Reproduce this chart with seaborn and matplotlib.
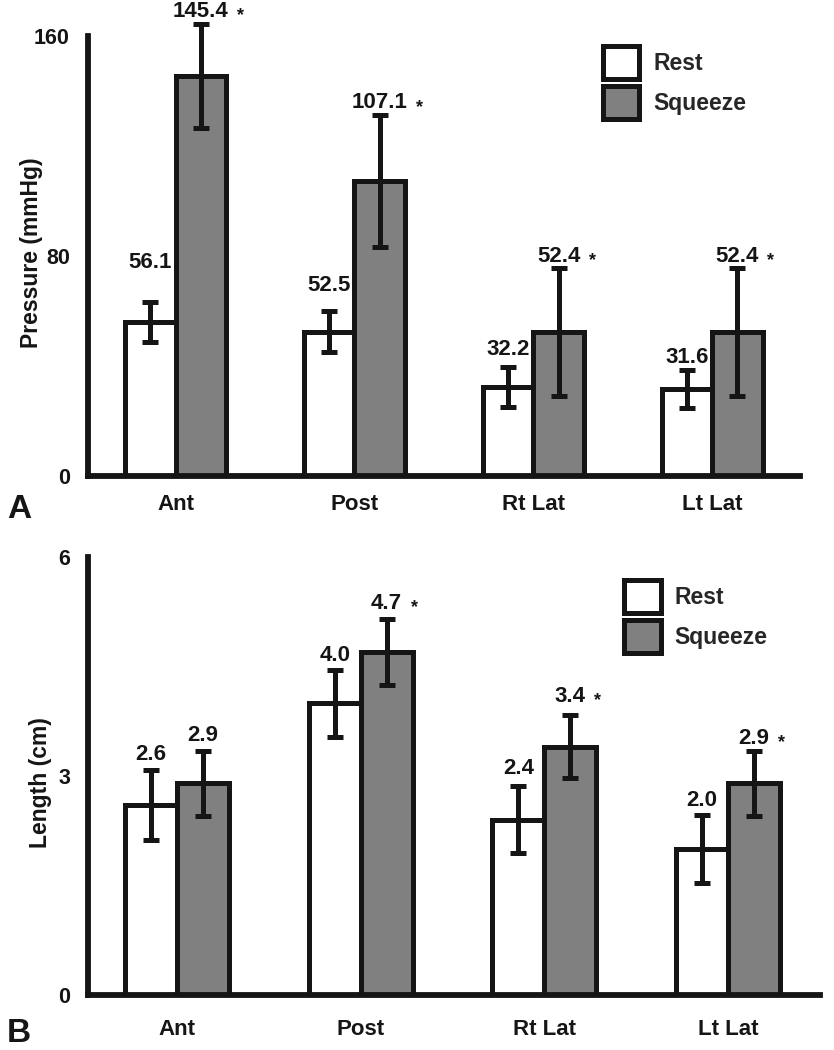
import numpy as np
import pandas as pd
import matplotlib
matplotlib.use("Agg")
import matplotlib.pyplot as plt
from matplotlib.patches import Patch
import seaborn as sns

sites = ["Ant", "Post", "Rt Lat", "Lt Lat"]
conditions = ["Rest", "Squeeze"]

# panel A - pressure (mmHg)
pressure_rest = [56.1, 52.5, 32.2, 31.6]
pressure_squeeze = [145.4, 107.1, 52.4, 52.4]
pressure_rest_err = [7.3, 7.5, 7.3, 7.0]
pressure_squeeze_err = [19.0, 24.0, 23.3, 23.3]
pressure_rest_star = [False, False, False, False]
pressure_squeeze_star = [True, True, True, True]

# panel B - length (cm)
length_rest = [2.6, 4.0, 2.4, 2.0]
length_squeeze = [2.9, 4.7, 3.4, 2.9]
length_rest_err = [0.48, 0.46, 0.46, 0.47]
length_squeeze_err = [0.45, 0.45, 0.43, 0.45]
length_rest_star = [False, False, False, False]
length_squeeze_star = [False, True, True, True]

# gap (pt) between error bar top and value label
gap_a_rest = [28, 18, 13, 9]
gap_a_squeeze = [9, 9, 8, 8]
gap_b_rest = [11, 10, 13, 10]
gap_b_squeeze = [11, 11, 14, 9]

sns.set_theme(style="white")
plt.rcParams["font.family"] = ["Liberation Sans", "DejaVu Sans"]
plt.rcParams["font.weight"] = "bold"

INK = "#151515"
GREY = "#808080"
LW = 3.6

fig = plt.figure(figsize=(8.34, 10.5), dpi=100)
ax_a = fig.add_axes([0.1055, 0.5467, 0.8535, 0.419])
ax_b = fig.add_axes([0.1055, 0.0524, 0.8775, 0.417])


def panel(ax, rest, squeeze, rest_err, squeeze_err, rest_star, squeeze_star,
          gaps_rest, gaps_squeeze, ymax, yticks, ylabel, xlim, xpad, label_xy, leg_xy):
    df = pd.DataFrame({
        "site": sites * 2,
        "condition": ["Rest"] * 4 + ["Squeeze"] * 4,
        "value": list(rest) + list(squeeze),
    })
    sns.barplot(data=df, x="site", y="value", hue="condition", order=sites,
                hue_order=conditions, palette={"Rest": "white", "Squeeze": GREY},
                edgecolor=INK, linewidth=LW, width=0.565, errorbar=None,
                saturation=1, legend=False, ax=ax)

    all_err = [rest_err, squeeze_err]
    all_star = [rest_star, squeeze_star]
    all_gap = [gaps_rest, gaps_squeeze]
    bar_conts = list(ax.containers)
    for k, cont in enumerate(bar_conts):
        xs = [b.get_x() + b.get_width() / 2 for b in cont]
        hs = [b.get_height() for b in cont]
        eb = ax.errorbar(xs, hs, yerr=all_err[k], fmt="none", ecolor=INK,
                         elinewidth=3.6, capsize=5.5, capthick=3.6, zorder=5)
        for art in list(eb.lines[1]) + list(eb.lines[2]):
            art.set_clip_on(False)
        for x, h, e, s, g in zip(xs, hs, all_err[k], all_star[k], all_gap[k]):
            lab = f"{h:.1f}"
            t = ax.annotate(lab, xy=(x, h + e), xytext=(0, g),
                            textcoords="offset points", ha="center", va="center",
                            fontsize=16, fontweight="bold", color=INK,
                            annotation_clip=False)
            if s:
                ax.annotate("*", xy=(1, 0.5), xycoords=t, xytext=(6, -3),
                            textcoords="offset points", ha="left", va="center",
                            fontsize=13, fontweight="bold", color=INK)

    ax.set_xlim(*xlim)
    ax.set_ylim(0, ymax)
    ax.set_yticks(yticks)
    ax.set_yticklabels([str(v) for v in yticks])
    ax.set_xlabel("")
    ax.set_ylabel(ylabel, fontsize=16.5, fontweight="bold", color=INK)
    ax.yaxis.set_label_coords(*label_xy)
    sns.despine(ax=ax)
    for side in ["left", "bottom"]:
        ax.spines[side].set_linewidth(LW + 0.6)
        ax.spines[side].set_color(INK)
    ax.tick_params(axis="y", length=3, width=4, color=INK, pad=10,
                   labelsize=15.5, labelcolor=INK, direction="out")
    ax.tick_params(axis="x", length=0, pad=xpad, labelsize=16, labelcolor=INK)
    for tl in ax.get_xticklabels() + ax.get_yticklabels():
        tl.set_fontweight("bold")

    handles = [Patch(facecolor="white", edgecolor=INK, linewidth=LW, label="Rest"),
               Patch(facecolor=GREY, edgecolor=INK, linewidth=LW, label="Squeeze")]
    ax.legend(handles=handles, loc="upper left", bbox_to_anchor=leg_xy,
              frameon=False, fontsize=16.5, handlelength=1.6, handleheight=1.85,
              labelspacing=0.3, handletextpad=0.6, borderpad=0, borderaxespad=0)


panel(ax_a, pressure_rest, pressure_squeeze, pressure_rest_err, pressure_squeeze_err,
      pressure_rest_star, pressure_squeeze_star, gap_a_rest, gap_a_squeeze,
      160, [0, 80, 160], "Pressure (mmHg)", (-0.49, 3.49), 13,
      (-0.063, 0.507), (0.723, 0.978))
panel(ax_b, length_rest, length_squeeze, length_rest_err, length_squeeze_err,
      length_rest_star, length_squeeze_star, gap_b_rest, gap_b_squeeze,
      6, [0, 3, 6], "Length (cm)", (-0.485, 3.5), 17,
      (-0.049, 0.484), (0.733, 0.948))

fig.text(0.008, 1 - 518 / 1050, "A", fontsize=24, fontweight="bold", color=INK)
fig.text(0.008, 1 - 1042 / 1050, "B", fontsize=24, fontweight="bold", color=INK)

fig.savefig("out.png", dpi=100, facecolor="white")
